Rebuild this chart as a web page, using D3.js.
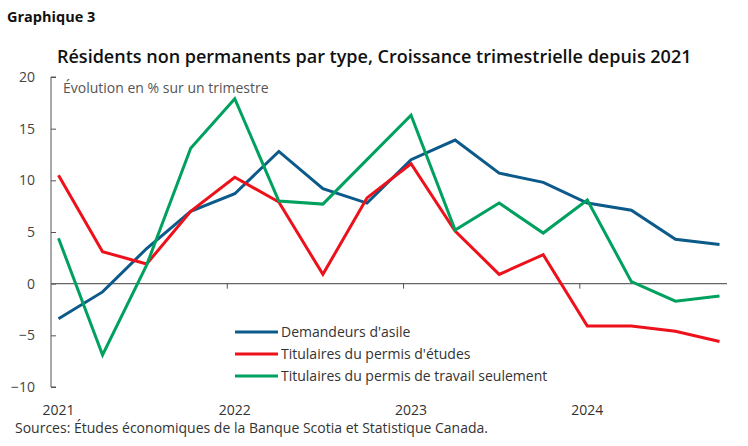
<!DOCTYPE html>
<html>
<head>
<meta charset="utf-8">
<script src="https://cdn.jsdelivr.net/npm/d3@7"></script>
<style>
  body { margin: 0; background: #fff; }
  text { font-family: "Open Sans", "Noto Sans", sans-serif; }
</style>
</head>
<body>
<svg id="chart" width="748" height="446"></svg>
<script>
// quarters 2021T1 .. 2024T4
var quarters = ["2021T1","2021T2","2021T3","2021T4","2022T1","2022T2","2022T3","2022T4",
                "2023T1","2023T2","2023T3","2023T4","2024T1","2024T2","2024T3","2024T4"];
var yearLabels = ["2021", "2022", "2023", "2024"];
var yTicks = [-10, -5, 0, 5, 10, 15, 20];

var asile   = [-3.4, -0.8, 3.4, 7.0, 8.7, 12.8, 9.2, 7.8, 12.0, 13.9, 10.7, 9.8, 7.8, 7.1, 4.3, 3.8];
var etudes  = [10.5, 3.1, 1.9, 7.0, 10.3, 7.9, 0.9, 8.3, 11.6, 5.1, 0.9, 2.8, -4.1, -4.1, -4.6, -5.6];
var travail = [4.4, -6.9, 1.8, 13.1, 17.9, 8.0, 7.7, 12.0, 16.3, 5.2, 7.8, 4.9, 8.1, 0.2, -1.7, -1.2];

var series = [
  {name: "Demandeurs d'asile", values: asile, color: "#0b5a8a"},
  {name: "Titulaires du permis d'études", values: etudes, color: "#ec111a"},
  {name: "Titulaires du permis de travail seulement", values: travail, color: "#00a15f"}
];

var svg = d3.select("#chart");

// header
svg.append("text")
    .attr("x", 7).attr("y", 22)
    .style("font-size", "14.5px").style("font-weight", "700").style("fill", "#111")
    .text("Graphique 3");

svg.append("text")
    .attr("x", 57).attr("y", 63)
    .style("font-size", "18px").style("font-weight", "600").style("fill", "#111")
    .text("Résidents non permanents par type, Croissance trimestrielle depuis 2021");

// scales
var x = d3.scaleLinear().domain([-0.17, 15.17]).range([51, 727]);
var y = d3.scaleLinear().domain([-10, 20]).range([387, 77]);

// y axis
var yAxis = d3.axisRight(y).tickValues(yTicks).tickSize(5).tickFormat(d3.format("d"));
var gy = svg.append("g").attr("transform", "translate(51,0)").call(yAxis);
gy.select(".domain").attr("stroke", "#555").attr("d", "M5," + y(20) + "H0V" + y(-10) + "H5");
gy.selectAll(".tick line").attr("stroke", "#555");
gy.selectAll(".tick text")
    .attr("x", -16).attr("text-anchor", "end")
    .style("font-size", "14px").style("fill", "#444");

svg.append("text")
    .attr("x", 63).attr("y", 93)
    .style("font-size", "14px").style("fill", "#555")
    .text("Évolution en % sur un trimestre");

// zero line with year ticks
svg.append("line")
    .attr("x1", x.range()[0]).attr("x2", x.range()[1])
    .attr("y1", y(0)).attr("y2", y(0))
    .attr("stroke", "#666").attr("stroke-width", 1.2);

svg.selectAll(".ytick")
    .data([4, 8, 12])
    .enter().append("line")
    .attr("x1", function(d) { return x(d - 0.17); })
    .attr("x2", function(d) { return x(d - 0.17); })
    .attr("y1", y(0)).attr("y2", y(0) + 5)
    .attr("stroke", "#555");

// year labels
svg.selectAll(".year")
    .data(yearLabels)
    .enter().append("text")
    .attr("x", function(d, i) { return x(i * 4); })
    .attr("y", 415)
    .attr("text-anchor", "middle")
    .style("font-size", "14px").style("fill", "#333")
    .text(function(d) { return d; });

// lines
var line = d3.line()
    .x(function(d, i) { return x(i); })
    .y(function(d) { return y(d); });

svg.selectAll(".series")
    .data(series)
    .enter().append("path")
    .attr("fill", "none")
    .attr("stroke", function(d) { return d.color; })
    .attr("stroke-width", 3)
    .attr("stroke-linejoin", "miter")
    .attr("d", function(d) { return line(d.values); });

// legend
var leg = svg.selectAll(".leg")
    .data(series)
    .enter().append("g")
    .attr("transform", function(d, i) { return "translate(235," + (332 + i * 22) + ")"; });
leg.append("line")
    .attr("x1", 0).attr("x2", 43)
    .attr("stroke", function(d) { return d.color; })
    .attr("stroke-width", 3);
leg.append("text")
    .attr("x", 46).attr("y", 5)
    .style("font-size", "14px").style("fill", "#333")
    .text(function(d) { return d.name; });

// source
svg.append("text")
    .attr("x", 15).attr("y", 433)
    .style("font-size", "14px").style("fill", "#333")
    .text("Sources: Études économiques de la Banque Scotia et Statistique Canada.");
</script>
</body>
</html>
